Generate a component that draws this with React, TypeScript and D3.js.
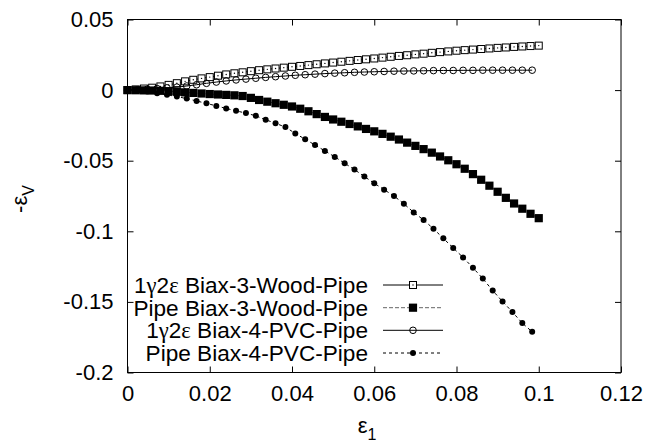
import React, { useEffect, useRef } from "react";
import * as d3 from "d3";

const WIDTH = 648;
const HEIGHT = 443;
const MARGIN = { top: 19.5, right: 27, bottom: 70.5, left: 127.5 };
const FONT = "'Liberation Sans', Arial, sans-serif";
const SERIF = "'Liberation Serif', 'Times New Roman', serif";

// Biax-3-Wood-Pipe samples
const woodX = [
  0, 0.002, 0.004, 0.006, 0.008, 0.01, 0.012, 0.014, 0.016, 0.018, 0.02, 0.022, 0.024, 0.026,
  0.028, 0.03, 0.032, 0.034, 0.036, 0.038, 0.04, 0.042, 0.044, 0.046, 0.048, 0.05, 0.052, 0.054,
  0.056, 0.058, 0.06, 0.062, 0.064, 0.066, 0.068, 0.07, 0.072, 0.074, 0.076, 0.078, 0.08, 0.082,
  0.084, 0.086, 0.088, 0.09, 0.092, 0.094, 0.096, 0.098, 0.1,
];
const woodGamma = [
  0, 0.0005, 0.0011, 0.0017, 0.0026, 0.0037, 0.0049, 0.0062, 0.0073, 0.0083, 0.0092, 0.0102,
  0.0111, 0.0119, 0.0126, 0.0134, 0.0141, 0.0147, 0.0153, 0.0159, 0.0165, 0.0171, 0.0177, 0.0183,
  0.0189, 0.0195, 0.0201, 0.0207, 0.0213, 0.0218, 0.0224, 0.023, 0.0236, 0.0242, 0.0247, 0.0253,
  0.0258, 0.0264, 0.0269, 0.0274, 0.0279, 0.0283, 0.0287, 0.0291, 0.0295, 0.0299, 0.0302, 0.0306,
  0.0309, 0.0312, 0.0315,
];
const woodPipe = [
  0, -0.0001, -0.0002, -0.0003, -0.0005, -0.0008, -0.0012, -0.0016, -0.002, -0.0024, -0.0028,
  -0.0031, -0.0034, -0.0037, -0.0042, -0.0055, -0.007, -0.0082, -0.0093, -0.0104, -0.0116,
  -0.0132, -0.015, -0.017, -0.019, -0.0208, -0.0224, -0.024, -0.0257, -0.0275, -0.0292, -0.031,
  -0.033, -0.035, -0.0372, -0.0395, -0.0418, -0.0443, -0.047, -0.0497, -0.0525, -0.0557, -0.0595,
  -0.0635, -0.0677, -0.072, -0.0763, -0.0803, -0.084, -0.0876, -0.0907,
];

// Biax-4-PVC-Pipe samples
const pvcX = [
  0, 0.0024, 0.0048, 0.0072, 0.0096, 0.012, 0.0144, 0.0168, 0.0192, 0.0216, 0.024, 0.0264, 0.0288,
  0.0312, 0.0336, 0.036, 0.0384, 0.0408, 0.0432, 0.0456, 0.048, 0.0504, 0.0528, 0.0552, 0.0576,
  0.06, 0.0624, 0.0648, 0.0672, 0.0696, 0.072, 0.0744, 0.0768, 0.0792, 0.0816, 0.084, 0.0864,
  0.0888, 0.0912, 0.0936, 0.096, 0.0984,
];
const pvcGamma = [
  0, 0.0002, 0.0006, 0.0011, 0.0016, 0.0021, 0.0029, 0.0038, 0.0048, 0.0057, 0.0065, 0.0072,
  0.0078, 0.0084, 0.009, 0.0095, 0.01, 0.0105, 0.0109, 0.0113, 0.0117, 0.012, 0.0123, 0.0126,
  0.0128, 0.013, 0.0132, 0.0134, 0.0135, 0.0136, 0.0137, 0.0138, 0.0139, 0.0139, 0.014, 0.014,
  0.0141, 0.0141, 0.0141, 0.0141, 0.0141, 0.0141,
];
const pvcPipe = [
  0, -0.0003, -0.001, -0.0022, -0.0033, -0.0046, -0.006, -0.0077, -0.0094, -0.0112, -0.013,
  -0.0147, -0.0163, -0.0182, -0.021, -0.0235, -0.0262, -0.0307, -0.0348, -0.0389, -0.0431,
  -0.0473, -0.0518, -0.0563, -0.0612, -0.066, -0.0705, -0.075, -0.0805, -0.0866, -0.092, -0.0982,
  -0.105, -0.1118, -0.1185, -0.1258, -0.1335, -0.142, -0.1497, -0.1572, -0.165, -0.1712,
];

const xTicks = [0, 0.02, 0.04, 0.06, 0.08, 0.1, 0.12];
const yTicks = [0.05, 0, -0.05, -0.1, -0.15, -0.2];

const seriesLabels = [
  "1γ2ε Biax-3-Wood-Pipe",
  "Pipe Biax-3-Wood-Pipe",
  "1γ2ε Biax-4-PVC-Pipe",
  "Pipe Biax-4-PVC-Pipe",
];

const series = [
  { label: seriesLabels[0], xs: woodX, ys: woodGamma, marker: "openSquare", dash: null, stroke: "#000" },
  { label: seriesLabels[1], xs: woodX, ys: woodPipe, marker: "filledSquare", dash: "4,2", stroke: "#666" },
  { label: seriesLabels[2], xs: pvcX, ys: pvcGamma, marker: "openCircle", dash: null, stroke: "#000" },
  { label: seriesLabels[3], xs: pvcX, ys: pvcPipe, marker: "filledCircle", dash: "3,3", stroke: "#000" },
];

const fmt = (d: number) => String(+d.toFixed(2));

const Marker = ({ kind, x, y }: { kind: string; x: number; y: number }) => {
  if (kind === "openSquare")
    return (
      <g>
        <rect x={x - 3.5} y={y - 3.5} width={7} height={7} fill="#fff" stroke="#000" strokeWidth={1} />
        <circle cx={x} cy={y} r={0.7} fill="#000" />
      </g>
    );
  if (kind === "filledSquare") return <rect x={x - 4.1} y={y - 4.1} width={8.2} height={8.2} fill="#000" />;
  if (kind === "openCircle") return <circle cx={x} cy={y} r={3.3} fill="none" stroke="#000" strokeWidth={1} />;
  return <circle cx={x} cy={y} r={3} fill="#000" />;
};

const Label = ({ text }: { text: string }) => (
  <>
    {Array.from(text).map((c, i) =>
      /[α-ω]/.test(c) ? (
        <tspan key={i} fontFamily={SERIF}>
          {c}
        </tspan>
      ) : (
        <tspan key={i}>{c}</tspan>
      )
    )}
  </>
);

const App = () => {
  const axesRef = useRef<SVGGElement>(null);
  const x = d3.scaleLinear().domain([0, 0.12]).range([MARGIN.left, WIDTH - MARGIN.right]);
  const y = d3.scaleLinear().domain([-0.2, 0.05]).range([HEIGHT - MARGIN.bottom, MARGIN.top]);

  useEffect(() => {
    const g = d3.select(axesRef.current);
    g.selectAll("*").remove();
    const bottom = d3.axisBottom(x).tickValues(xTicks).tickFormat((d) => fmt(+d)).tickSizeInner(-6).tickSizeOuter(0).tickPadding(13);
    const left = d3.axisLeft(y).tickValues(yTicks).tickFormat((d) => fmt(+d)).tickSizeInner(-6).tickSizeOuter(0).tickPadding(14);
    const top = d3.axisTop(x).tickValues(xTicks).tickFormat(() => "").tickSizeInner(-6).tickSizeOuter(0);
    const right = d3.axisRight(y).tickValues(yTicks).tickFormat(() => "").tickSizeInner(-6).tickSizeOuter(0);
    g.append("g").attr("transform", `translate(0,${HEIGHT - MARGIN.bottom})`).call(bottom);
    g.append("g").attr("transform", `translate(${MARGIN.left},0)`).call(left);
    g.append("g").attr("transform", `translate(0,${MARGIN.top})`).call(top);
    g.append("g").attr("transform", `translate(${WIDTH - MARGIN.right},0)`).call(right);
    g.selectAll(".domain").remove();
    g.selectAll(".tick line").attr("stroke", "#000");
    g.selectAll(".tick text").attr("font-family", FONT).attr("font-size", 22).attr("fill", "#000");
  }, []);

  const line = d3
    .line<[number, number]>()
    .x((d) => x(d[0]))
    .y((d) => y(d[1]));

  const legendY = [285, 307.7, 330.3, 353];

  return (
    <svg width={WIDTH} height={HEIGHT} style={{ position: "absolute", left: 0, top: 0, background: "#fff" }}>
      <rect width={WIDTH} height={HEIGHT} fill="#fff" />
      <g ref={axesRef} />
      {series.map((s, i) => {
        const pts = s.xs.map((v, j) => [v, s.ys[j]] as [number, number]);
        return (
          <g key={i}>
            <path d={line(pts) || ""} fill="none" stroke={s.stroke} strokeWidth={1} strokeDasharray={s.dash || undefined} />
            {pts.map((p, j) => (
              <Marker key={j} kind={s.marker} x={x(p[0])} y={y(p[1])} />
            ))}
          </g>
        );
      })}
      <rect
        x={MARGIN.left}
        y={MARGIN.top}
        width={WIDTH - MARGIN.left - MARGIN.right}
        height={HEIGHT - MARGIN.top - MARGIN.bottom}
        fill="none"
        stroke="#000"
        strokeWidth={1}
      />
      <g fontFamily={FONT} fontSize={22}>
        {series.map((s, i) => (
          <g key={i}>
            <text x={368} y={legendY[i] + 8} textAnchor="end" fontSize={22.6}>
              <Label text={s.label} />
            </text>
            <line x1={383} x2={443} y1={legendY[i]} y2={legendY[i]} stroke={s.stroke} strokeWidth={1} strokeDasharray={s.dash || undefined} />
            <Marker kind={s.marker} x={413} y={legendY[i]} />
          </g>
        ))}
        <text x={367} y={433} textAnchor="middle">
          <tspan>ε</tspan>
          <tspan fontSize={16} dy={7}>1</tspan>
        </text>
        <text transform="translate(27,199) rotate(-90)" textAnchor="middle">
          <tspan>-ε</tspan>
          <tspan fontSize={16} dy={7}>V</tspan>
        </text>
      </g>
    </svg>
  );
};

export default App;
